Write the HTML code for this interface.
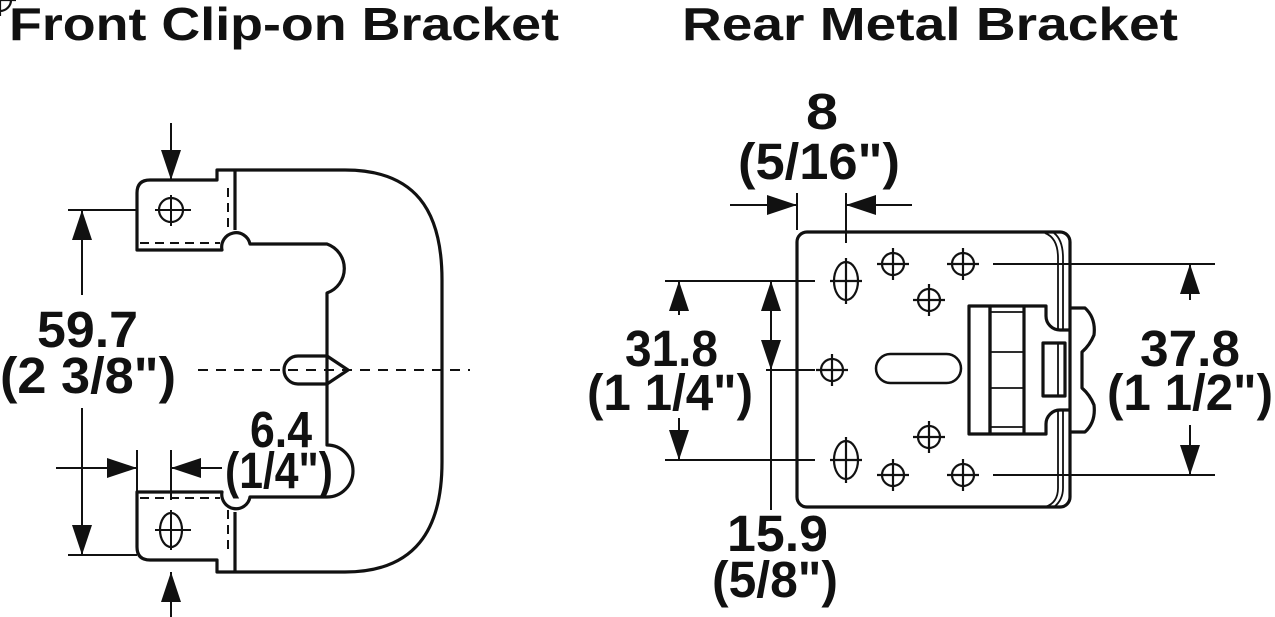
<!DOCTYPE html>
<html><head><meta charset="utf-8"><style>
html,body{margin:0;padding:0;background:#fff;}
svg{display:block;}
text{font-family:"Liberation Sans",Arial,sans-serif;font-weight:bold;fill:#111;}
</style></head><body>
<svg width="1275" height="617" viewBox="0 0 1275 617" xmlns="http://www.w3.org/2000/svg">
<defs>
<marker id="a" viewBox="0 0 30 20" refX="30" refY="10" markerWidth="30" markerHeight="20" markerUnits="userSpaceOnUse" orient="auto"><path d="M0,0 L30,10 L0,20 Z" fill="#111"/></marker>
</defs>
<text x="9" y="40" font-size="46" textLength="550" lengthAdjust="spacingAndGlyphs">Front Clip-on Bracket</text>
<text x="682" y="40" font-size="46" textLength="496" lengthAdjust="spacingAndGlyphs">Rear Metal Bracket</text>

<g fill="none" stroke="#111" stroke-width="3.2" stroke-linejoin="round">
<path d="M150,180 L217,180 L217,170 L345,170 C415,170 442,210 442,280 L442,462 C442,530 415,572 345,572 L217,572 L217,560 L150,560 Q137,560 137,547 L137,492 L222,492 A14 14 0 0 0 250,497 L327,497 A26 26 0 0 0 327,445 L327,293 A26 26 0 0 0 327,244 L250,244 A14 14 0 0 0 222,250 L137,250 L137,193 Q137,180 150,180 Z"/>
<path d="M327,356 L298,356 A14 14 0 0 0 298,384 L327,384 L348,370 Z"/>
<line x1="235" y1="170" x2="235" y2="230"/>
<line x1="235" y1="512" x2="235" y2="572"/>
<circle cx="171" cy="210" r="12" stroke-width="2.2"/>
<ellipse cx="171" cy="530" rx="11" ry="17" stroke-width="2.2"/>
</g>
<g fill="none" stroke="#111" stroke-width="2">
<path d="M140,243 H220 M228,188 V232 M140,498 H220 M228,510 V555" stroke-dasharray="9,6"/>
<path d="M198,370 H470" stroke-dasharray="10,8"/>
<path d="M155,210 H191 M171,195 V226 M155,530 H191 M171,510 V550"/>
</g>
<g stroke="#111" stroke-width="2" fill="none">
<line x1="171" y1="123" x2="171" y2="180" marker-end="url(#a)"/>
<line x1="171" y1="617" x2="171" y2="572" marker-end="url(#a)"/>
<line x1="68" y1="210" x2="137" y2="210"/>
<line x1="68" y1="555" x2="137" y2="555"/>
<line x1="82" y1="295" x2="82" y2="210" marker-end="url(#a)"/>
<line x1="82" y1="408" x2="82" y2="555" marker-end="url(#a)"/>
<line x1="56" y1="468" x2="137" y2="468" marker-end="url(#a)"/>
<line x1="222" y1="468" x2="171" y2="468" marker-end="url(#a)"/>
<line x1="137" y1="450" x2="137" y2="500"/>
<line x1="171" y1="450" x2="171" y2="500"/>
</g>
<text x="37" y="347" font-size="51" textLength="101" lengthAdjust="spacingAndGlyphs">59.7</text>
<text x="0" y="393" font-size="51" textLength="176" lengthAdjust="spacingAndGlyphs">(2 3/8")</text>
<text x="250" y="447" font-size="51" textLength="62" lengthAdjust="spacingAndGlyphs">6.4</text>
<text x="225" y="488" font-size="51" textLength="108" lengthAdjust="spacingAndGlyphs">(1/4")</text>

<g fill="none" stroke="#111" stroke-width="3.2" stroke-linejoin="round">
<rect x="797" y="232" width="273" height="275" rx="10"/>
<rect x="969" y="306" width="21" height="128"/>
<path d="M990,306 H1046 V316 A14 14 0 0 0 1060,330 H1070 M990,434 H1046 V424 A14 14 0 0 1 1060,410 H1070"/>
<line x1="990" y1="306" x2="990" y2="434"/>
<line x1="1024" y1="306" x2="1024" y2="434"/>
<rect x="1043" y="343" width="22" height="53"/>
<path d="M1070,308 H1085 Q1096,318 1094,335 Q1090,345 1082,352 V388 Q1090,395 1094,405 Q1096,422 1085,432 H1070"/>
<rect x="876" y="354" width="85" height="29" rx="14.5" stroke-width="2.5"/>
</g>
<g fill="none" stroke="#111" stroke-width="1.8">
<path d="M1045,233 Q1058,238 1058,258 V330 M1058,410 V488 Q1058,503 1045,507"/>
<path d="M1054,233 Q1063,240 1063,258 V330 M1063,410 V488 Q1063,500 1054,507"/>
<line x1="990" y1="312" x2="1024" y2="312"/><line x1="990" y1="352" x2="1024" y2="352"/>
<line x1="990" y1="388" x2="1024" y2="388"/><line x1="990" y1="427" x2="1024" y2="427"/>
<line x1="1058" y1="343" x2="1058" y2="396"/>
</g>
<g fill="none" stroke="#111" stroke-width="2.2">
<ellipse cx="846" cy="281" rx="12" ry="19"/><path d="M830,281 H862 M846,258 V304"/>
<ellipse cx="846" cy="460" rx="12" ry="19"/><path d="M830,460 H862 M846,437 V483"/>
<g id="c"><circle cx="0" cy="0" r="11"/><path d="M-16,0 H16 M0,-16 V16"/></g>
<use href="#c" x="893" y="264"/>
<use href="#c" x="963" y="264"/>
<use href="#c" x="929" y="300"/>
<use href="#c" x="832" y="370"/>
<use href="#c" x="929" y="437"/>
<use href="#c" x="893" y="475"/>
<use href="#c" x="963" y="475"/>
</g>
<g stroke="#111" stroke-width="2" fill="none">
<line x1="797" y1="193" x2="797" y2="230"/>
<line x1="846" y1="193" x2="846" y2="243"/>
<line x1="730" y1="205" x2="797" y2="205" marker-end="url(#a)"/>
<line x1="912" y1="205" x2="846" y2="205" marker-end="url(#a)"/>
<line x1="665" y1="281" x2="815" y2="281"/>
<line x1="665" y1="460" x2="815" y2="460"/>
<line x1="679" y1="315" x2="679" y2="281" marker-end="url(#a)"/>
<line x1="679" y1="418" x2="679" y2="460" marker-end="url(#a)"/>
<line x1="771" y1="325" x2="771" y2="281" marker-end="url(#a)"/>
<line x1="771" y1="325" x2="771" y2="370" marker-end="url(#a)"/>
<line x1="771" y1="370" x2="771" y2="510"/>
<line x1="766" y1="370" x2="815" y2="370"/>
<line x1="993" y1="264" x2="1215" y2="264"/>
<line x1="993" y1="475" x2="1215" y2="475"/>
<line x1="1190" y1="300" x2="1190" y2="264" marker-end="url(#a)"/>
<line x1="1190" y1="425" x2="1190" y2="475" marker-end="url(#a)"/>
</g>
<text x="806" y="129" font-size="51" textLength="32" lengthAdjust="spacingAndGlyphs">8</text>
<text x="738" y="179" font-size="51" textLength="162" lengthAdjust="spacingAndGlyphs">(5/16")</text>
<text x="625" y="366" font-size="51" textLength="93" lengthAdjust="spacingAndGlyphs">31.8</text>
<text x="587" y="410" font-size="51" textLength="166" lengthAdjust="spacingAndGlyphs">(1 1/4")</text>
<text x="727" y="551" font-size="51" textLength="101" lengthAdjust="spacingAndGlyphs">15.9</text>
<text x="712" y="597" font-size="51" textLength="126" lengthAdjust="spacingAndGlyphs">(5/8")</text>
<text x="1140" y="366" font-size="51" textLength="100" lengthAdjust="spacingAndGlyphs">37.8</text>
<text x="1107" y="410" font-size="51" textLength="166" lengthAdjust="spacingAndGlyphs">(1 1/2")</text>
</svg>
</body></html>
